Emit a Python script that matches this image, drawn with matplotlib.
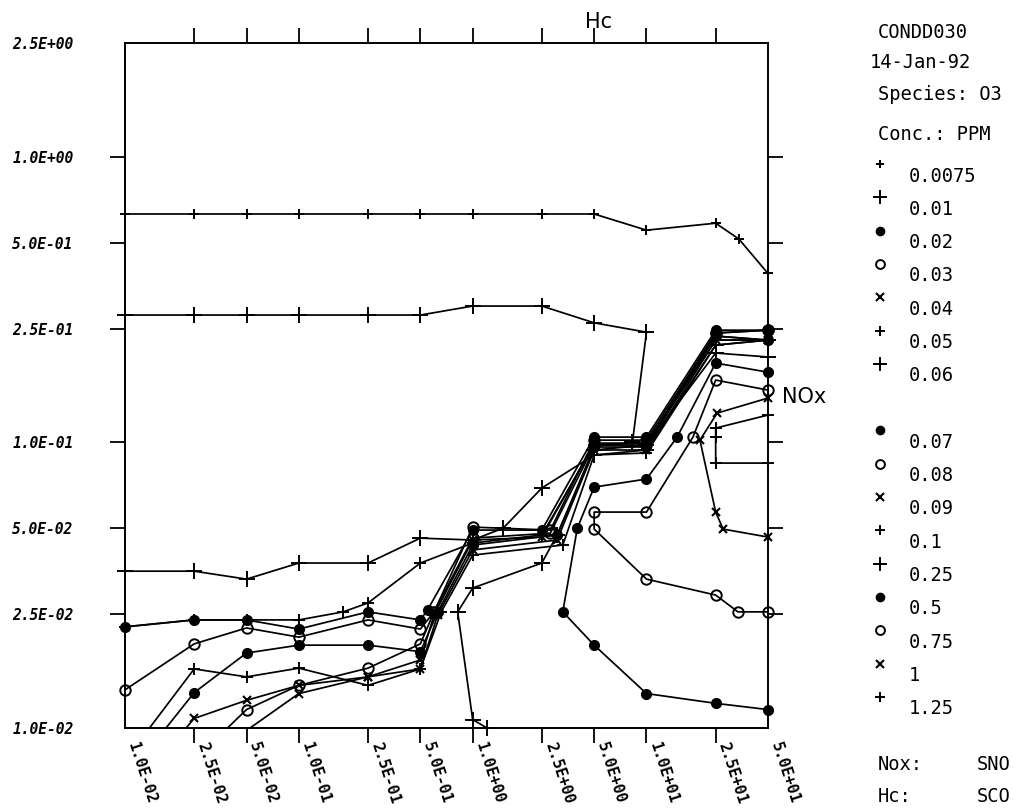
import matplotlib
matplotlib.use('Agg')
import matplotlib.pyplot as plt
from matplotlib.ticker import FixedLocator, NullFormatter

# axis ticks (log-log, Hc across, NOx up)
hc_ticks = [0.01, 0.025, 0.05, 0.1, 0.25, 0.5, 1, 2.5, 5, 10, 25, 50]
nox_ticks = [0.01, 0.025, 0.05, 0.1, 0.25, 0.5, 1.0, 2.5]

conc_labels = ['0.0075', '0.01', '0.02', '0.03', '0.04', '0.05', '0.06',
               '0.07', '0.08', '0.09', '0.1', '0.25', '0.5', '0.75', '1', '1.25']

# one contour per O3 concentration, points in drawing order
hc_0075 = [0.01, 0.025, 0.05, 0.1, 0.25, 0.5, 1, 2.5, 5, 10, 25, 34, 50]
nox_0075 = [0.63, 0.63, 0.63, 0.63, 0.63, 0.63, 0.63, 0.63, 0.63, 0.553, 0.585, 0.515, 0.39]

hc_001 = [0.01, 0.025, 0.05, 0.1, 0.25, 0.5, 1, 2.5, 5, 10, 8.3]
nox_001 = [0.279, 0.279, 0.279, 0.279, 0.279, 0.279, 0.30, 0.30, 0.262, 0.243, 0.100]

hc_002 = [0.01, 0.025, 0.05, 0.1, 0.25, 0.5, 0.55, 1, 2.5, 5, 10, 25, 50]
nox_002 = [0.0226, 0.0239, 0.0239, 0.0222, 0.0255, 0.0239, 0.0259, 0.0493, 0.0493, 0.1043, 0.1043, 0.247, 0.247]

hc_003 = [0.01, 0.025, 0.05, 0.1, 0.25, 0.5, 0.6, 1, 2.8, 5, 10, 25, 50]
nox_003 = [0.0136, 0.0197, 0.0224, 0.0208, 0.0239, 0.0222, 0.0255, 0.0505, 0.0493, 0.1018, 0.1018, 0.2413, 0.247]

hc_004 = [0.01, 0.025, 0.05, 0.1, 0.25, 0.5, 0.6, 1, 2.5, 5, 10, 25, 50]
nox_004 = [0.0056, 0.0108, 0.0125, 0.0141, 0.0151, 0.0173, 0.0249, 0.0455, 0.0466, 0.0994, 0.0994, 0.2355, 0.228]

hc_005 = [0.01, 0.025, 0.05, 0.1, 0.18, 0.25, 0.5, 1, 2.5, 5, 10, 25, 50]
nox_005 = [0.0226, 0.0239, 0.0239, 0.0239, 0.0255, 0.0274, 0.0378, 0.0444, 0.0474, 0.0978, 0.0994, 0.228, 0.228]

hc_006 = [0.01, 0.025, 0.05, 0.1, 0.25, 0.5, 1, 1.5, 2.5, 5, 10, 25, 50]
nox_006 = [0.0354, 0.0354, 0.0332, 0.0378, 0.0378, 0.0462, 0.0455, 0.0501, 0.0692, 0.0903, 0.094, 0.219, 0.228]

hc_007 = [0.01, 0.025, 0.05, 0.1, 0.25, 0.5, 0.63, 1, 3.06, 5, 10, 25, 50]
nox_007 = [0.0066, 0.0133, 0.0183, 0.0195, 0.0195, 0.0185, 0.0255, 0.0437, 0.0474, 0.0963, 0.0963, 0.2355, 0.228]

hc_008 = [0.01, 0.025, 0.05, 0.1, 0.25, 0.5, 0.6, 1, 2.8, 5, 10, 25, 50]
nox_008 = [0.0041, 0.0077, 0.0116, 0.0141, 0.0162, 0.0197, 0.0255, 0.0462, 0.0481, 0.0978, 0.0978, 0.2413, 0.247]

hc_009 = [0.01, 0.025, 0.05, 0.1, 0.25, 0.5, 0.63, 1, 3.06, 5, 10, 25, 50]
nox_009 = [0.0032, 0.0061, 0.0098, 0.0132, 0.0151, 0.0161, 0.0249, 0.0420, 0.0455, 0.0940, 0.0940, 0.228, 0.228]

hc_01 = [0.01, 0.025, 0.05, 0.1, 0.25, 0.5, 0.66, 1, 3.3, 5, 10, 25, 50]
nox_01 = [0.0077, 0.0161, 0.0151, 0.0162, 0.0141, 0.0161, 0.0255, 0.0403, 0.0437, 0.0903, 0.0918, 0.219, 0.228]

hc_025 = [50, 25, 10, 5, 3.06, 2.5, 1, 0.82, 1, 1.21]
nox_025 = [0.199, 0.2054, 0.0978, 0.094, 0.0474, 0.0378, 0.0309, 0.0255, 0.0107, 0.01]

hc_05 = [50, 25, 10, 5, 3.3, 4.0, 5, 10, 15, 25, 50]
nox_05 = [0.0116, 0.0122, 0.0132, 0.0195, 0.0255, 0.0501, 0.0697, 0.0744, 0.1043, 0.1895, 0.176]

hc_075 = [50, 33.6, 25, 10, 5, 5, 10, 18.5, 25, 50]
nox_075 = [0.0255, 0.0255, 0.0292, 0.0332, 0.0497, 0.057, 0.057, 0.1043, 0.1652, 0.1524]

hc_1 = [50, 27.6, 25, 20.3, 25.5, 50]
nox_1 = [0.0466, 0.0497, 0.057, 0.1018, 0.1266, 0.1429]

hc_125 = [50, 25, 25, 25, 50]
nox_125 = [0.1246, 0.1122, 0.1043, 0.0846, 0.0846]

series = [(hc_0075, nox_0075), (hc_001, nox_001), (hc_002, nox_002), (hc_003, nox_003),
          (hc_004, nox_004), (hc_005, nox_005), (hc_006, nox_006), (hc_007, nox_007),
          (hc_008, nox_008), (hc_009, nox_009), (hc_01, nox_01), (hc_025, nox_025),
          (hc_05, nox_05), (hc_075, nox_075), (hc_1, nox_1), (hc_125, nox_125)]

sym = {
    'plus_s': dict(marker='+', ms=7, mew=1.4, mec='black'),
    'plus_m': dict(marker='+', ms=9, mew=1.4, mec='black'),
    'plus_l': dict(marker='+', ms=12, mew=1.4, mec='black'),
    'dot': dict(marker='o', ms=7, mfc='black', mec='black'),
    'ring': dict(marker='o', ms=7.5, mfc='none', mew=1.4, mec='black'),
    'cross': dict(marker='x', ms=6, mew=1.5, mec='black'),
}
kinds = ['plus_s', 'plus_l', 'dot', 'ring', 'cross', 'plus_m', 'plus_l',
         'dot', 'ring', 'cross', 'plus_m', 'plus_l', 'dot', 'ring', 'cross', 'plus_m']

W, H = 1016, 808
fig = plt.figure(figsize=(W / 100, H / 100), dpi=100)
fig.patch.set_facecolor('white')
ax = fig.add_axes([125 / W, 1 - 728 / H, (768 - 125) / W, (728 - 43) / H])
ax.set_xscale('log')
ax.set_yscale('log')
ax.set_xlim(0.01, 50)
ax.set_ylim(0.01, 2.5)

for (hc, nox), k in zip(series, kinds):
    ax.plot(hc, nox, color='black', lw=1.25, zorder=2)
    vis = [(a, b) for a, b in zip(hc, nox) if 0.01 <= a <= 50 and 0.01 <= b <= 2.5]
    ax.plot([v[0] for v in vis], [v[1] for v in vis], ls='none', clip_on=False, zorder=3, **sym[k])

ax.set_xticks(hc_ticks)
ax.set_xticklabels([f'{v:.1E}' for v in hc_ticks], fontfamily='DejaVu Sans Mono',
                   fontweight='bold', fontsize=11, rotation=-72, ha='left',
                   va='bottom', rotation_mode='anchor')
ax.set_yticks(nox_ticks)
ax.set_yticklabels([f'{v:.1E}' for v in nox_ticks], fontfamily='DejaVu Sans Mono',
                   fontweight='bold', fontstyle='italic', fontsize=10.5)
ax.xaxis.set_minor_locator(FixedLocator(hc_ticks[1:-1]))
ax.yaxis.set_minor_locator(FixedLocator(nox_ticks[1:-1]))
ax.xaxis.set_minor_formatter(NullFormatter())
ax.yaxis.set_minor_formatter(NullFormatter())
ax.xaxis.remove_overlapping_locs = False
ax.yaxis.remove_overlapping_locs = False
ax.tick_params(axis='x', which='major', length=0, pad=12)
ax.tick_params(axis='y', which='major', length=0, pad=37)
ax.tick_params(which='minor', length=11, width=1.3, direction='out',
               top=True, right=True, bottom=True, left=True, color='black')
for s in ax.spines.values():
    s.set_linewidth(1.4)

fig.text(585 / W, 1 - 22 / H, 'Hc', fontsize=15, va='center', ha='left')
fig.text(782 / W, 1 - 397 / H, 'NOx', fontsize=15, va='center', ha='left')

mono = dict(family='DejaVu Sans Mono', fontsize=13.5, va='center', ha='left')
fig.text(878 / W, 1 - 32 / H, 'CONDD030', **mono)
fig.text(870 / W, 1 - 63 / H, '14-Jan-92', **mono)
fig.text(878 / W, 1 - 95 / H, 'Species: O3', **mono)
fig.text(878 / W, 1 - 135 / H, 'Conc.: PPM', **mono)
fig.text(878 / W, 1 - 764 / H, 'Nox:', **mono)
fig.text(977 / W, 1 - 764 / H, 'SNO', **mono)
fig.text(878 / W, 1 - 797 / H, 'Hc:', **mono)
fig.text(977 / W, 1 - 797 / H, 'SCO', **mono)

# legend: symbol above-left of each concentration, one empty slot after 0.06
lax = fig.add_axes([0, 0, 1, 1])
lax.set_xlim(0, W)
lax.set_ylim(H, 0)
lax.axis('off')
for i, (lab, k) in enumerate(zip(conc_labels, kinds)):
    slot = i if i < 7 else i + 1
    ty = 176 + 33.3 * slot
    st = dict(sym[k])
    st['ms'] = st['ms'] * 0.85
    lax.plot([880], [ty - 12], ls='none', **st)
    lax.text(909, ty, lab, **mono)

fig.savefig('out.png', dpi=100)
